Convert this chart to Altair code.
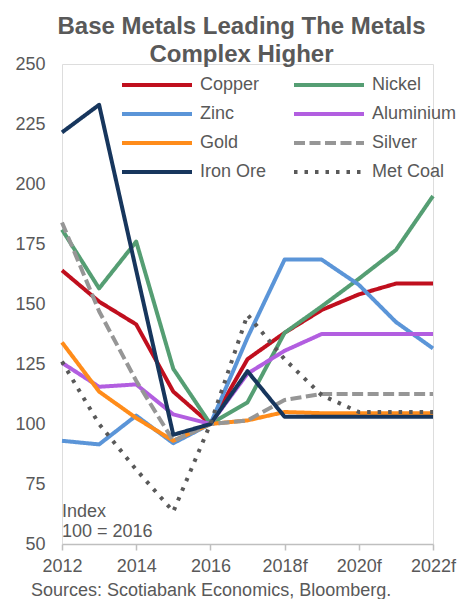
import altair as alt
import pandas as pd

# Index levels, 100 = 2016; 2018 onward are forecasts
years = list(range(2012, 2023))
copper = [164, 151, 141.5, 113.5, 100, 127, 138, 147.5, 154, 158.5, 158.5]
nickel = [181, 156.5, 176, 123, 100, 109, 138, 149, 160.5, 172.5, 195]
zinc = [93, 91.5, 103.5, 92, 100, 136, 168.5, 168.5, 158, 142.5, 131.5]
aluminium = [125.5, 115.5, 116.5, 104, 100, 121, 130.5, 137.5, 137.5, 137.5, 137.5]
gold = [134, 113.5, 102.5, 93, 100, 101.5, 105, 104.5, 104.5, 104.5, 104.5]
silver = [184, 147, 118, 93, 100, 101.5, 110, 112.5, 112.5, 112.5, 112.5]
iron_ore = [221.5, 233, 164, 95.5, 100, 122, 103, 103, 103, 103, 103]
met_coal = [126, 100, 81, 63.5, 100, 145.5, 127, 112, 105, 105, 105]

series_names = ["Copper", "Nickel", "Zinc", "Aluminium", "Gold", "Silver", "Iron Ore", "Met Coal"]
series_values = [copper, nickel, zinc, aluminium, gold, silver, iron_ore, met_coal]
series_colors = ["#c00f1e", "#559e73", "#5b95d8", "#b25ee0", "#ff8c1a", "#969696", "#17365d", "#595959"]
series_dashes = [[1, 0], [1, 0], [1, 0], [1, 0], [1, 0], [11, 4.5], [1, 0], [3.5, 7]]

x_ticks = [2012, 2014, 2016, 2018, 2020, 2022]
y_ticks = [50, 75, 100, 125, 150, 175, 200, 225, 250]

rows = []
for name, vals in zip(series_names, series_values):
    for yr, v in zip(years, vals):
        rows.append({"year": yr, "value": v, "series": name})
df = pd.DataFrame(rows)

GREY = "#595959"
FONT = "Liberation Sans"

lines = alt.Chart(df).mark_line(strokeWidth=4, strokeJoin="round").encode(
    x=alt.X(
        "year:Q",
        scale=alt.Scale(domain=[2012, 2022], nice=False, zero=False),
        axis=alt.Axis(
            values=x_ticks,
            labelExpr="datum.value >= 2018 ? datum.value + 'f' : '' + datum.value",
            title=None,
            grid=False,
            domainColor="#bfbfbf",
            domainWidth=1.5,
            tickColor="#bfbfbf",
            tickWidth=1.5,
            tickSize=6,
            labelPadding=7,
            labelFontSize=18,
            labelColor=GREY,
            labelFont=FONT,
            labelFlush=False,
        ),
    ),
    y=alt.Y(
        "value:Q",
        scale=alt.Scale(domain=[50, 250], nice=False, zero=False),
        axis=alt.Axis(
            values=y_ticks,
            title=None,
            grid=False,
            domain=False,
            ticks=False,
            labelPadding=17,
            labelFontSize=18,
            labelColor=GREY,
            labelFont=FONT,
        ),
    ),
    color=alt.Color(
        "series:N",
        scale=alt.Scale(domain=series_names, range=series_colors),
        sort=series_names,
        legend=alt.Legend(
            title=None,
            orient="none",
            direction="horizontal",
            legendX=58,
            legendY=12,
            columns=2,
            columnPadding=25,
            rowPadding=11,
            clipHeight=18,
            symbolType="stroke",
            symbolSize=4900,
            symbolStrokeWidth=4,
            labelOffset=6,
            labelFontSize=18,
            labelColor=GREY,
            labelFont=FONT,
            labelLimit=200,
        ),
    ),
    strokeDash=alt.StrokeDash(
        "series:N",
        scale=alt.Scale(domain=series_names, range=series_dashes),
        sort=series_names,
        legend=alt.Legend(title=None),
    ),
    order=alt.Order("year:Q"),
)

note = alt.Chart(pd.DataFrame({"year": [2012], "value": [61.4], "label": ["Index\n100 = 2016"]})).mark_text(
    align="left", baseline="alphabetic", fontSize=18, font=FONT, color=GREY, lineBreak="\n", lineHeight=20
).encode(x="year:Q", y="value:Q", text="label:N")

source = alt.Chart(pd.DataFrame({"label": ["Sources: Scotiabank Economics, Bloomberg."]})).mark_text(
    align="left", baseline="alphabetic", fontSize=18, font=FONT, color=GREY
).encode(x=alt.value(-31), y=alt.value(532), text="label:N")

chart = (
    alt.layer(lines, note, source)
    .properties(
        width=371,
        height=480,
        padding={"left": 62, "top": 64, "right": 28, "bottom": 55},
        autosize=alt.AutoSizeParams(type="none"),
        title=alt.TitleParams(
            text=["Base Metals Leading The Metals", "Complex Higher"],
            anchor="middle",
            frame="group",
            dx=-6,
            dy=12,
            fontSize=24,
            fontWeight="bold",
            font=FONT,
            color=GREY,
            lineHeight=28,
            offset=0,
        ),
    )
    .configure_view(stroke=None)
    .configure(background="white")
)

chart.save("out.html", embed_options={"renderer": "svg", "actions": False})
